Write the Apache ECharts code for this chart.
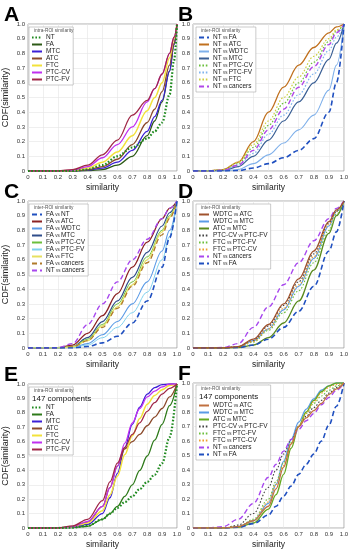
<!DOCTYPE html>
<html><head><meta charset="utf-8">
<script src="https://cdn.jsdelivr.net/npm/echarts@6/dist/echarts.min.js"></script>
<style>html,body{margin:0;padding:0;background:#fff}#c{width:355px;height:550px}</style>
</head><body><div id="c"></div>
<script>
// ---------- DATA ----------
const X_TICKS = [0,0.1,0.2,0.3,0.4,0.5,0.6,0.7,0.8,0.9,1.0];
const Y_TICKS = [0,0.1,0.2,0.3,0.4,0.5,0.6,0.7,0.8,0.9,1.0];

// Panel A : intra-ROI similarity
const A_X = [0,0.1,0.2,0.3,0.4,0.5,0.6,0.7,0.8,0.85,0.9,0.95,0.98,1.0];
const A_NAMES = ['NT','FA','MTC','ATC','FTC','PTC-CV','PTC-FV'];
const A_Y = [
  [0,0,0,0,0.01,0.04,0.1,0.16,0.22,0.27,0.33,0.52,0.75,1.0],
  [0,0,0,0,0.002,0.01,0.04,0.1,0.24,0.34,0.47,0.68,0.86,1.0],
  [0,0,0,0,0.005,0.02,0.06,0.14,0.27,0.37,0.48,0.68,0.86,1.0],
  [0,0,0,0,0.008,0.03,0.08,0.18,0.33,0.42,0.54,0.72,0.87,1.0],
  [0,0,0,0.003,0.02,0.06,0.13,0.24,0.41,0.5,0.6,0.77,0.9,1.0],
  [0,0,0,0.005,0.03,0.09,0.18,0.3,0.47,0.56,0.66,0.8,0.91,1.0],
  [0,0,0,0.01,0.04,0.11,0.21,0.38,0.48,0.56,0.66,0.8,0.91,1.0]
];

// Panel B : inter-ROI similarity (NT vs ...)
const B_X = [0,0.1,0.2,0.3,0.4,0.5,0.6,0.7,0.8,0.9,0.95,1.0];
const B_NAMES = ['NT vs FA','NT vs ATC','NT vs WDTC','NT vs MTC','NT vs PTC-CV','NT vs PTC-FV','NT vs FTC','NT vs cancers'];
const B_Y = [
  [0,0,0,0.003,0.02,0.05,0.09,0.14,0.22,0.4,0.6,1.0],
  [0,0,0.01,0.06,0.2,0.4,0.57,0.72,0.84,0.94,0.98,1.0],
  [0,0,0,0.01,0.05,0.11,0.19,0.28,0.38,0.55,0.72,1.0],
  [0,0,0.003,0.03,0.1,0.21,0.34,0.47,0.6,0.76,0.87,1.0],
  [0,0,0.01,0.05,0.16,0.31,0.46,0.6,0.74,0.88,0.95,1.0],
  [0,0,0.005,0.04,0.12,0.25,0.38,0.52,0.66,0.82,0.91,1.0],
  [0,0,0.01,0.06,0.18,0.34,0.5,0.64,0.78,0.9,0.96,1.0],
  [0,0,0.005,0.04,0.14,0.28,0.42,0.57,0.71,0.86,0.94,1.0]
];

// Panel C : inter-ROI similarity (FA vs ...)
const C_X = [0,0.1,0.2,0.3,0.4,0.5,0.6,0.7,0.8,0.9,0.95,1.0];
const C_NAMES = ['FA vs NT','FA vs ATC','FA vs WDTC','FA vs MTC','FA vs PTC-CV','FA vs PTC-FV','FA vs FTC','FA vs cancers','NT vs cancers'];
const C_Y = [
  [0,0,0,0,0.01,0.035,0.08,0.17,0.32,0.55,0.75,1.0],
  [0,0,0.002,0.02,0.1,0.22,0.37,0.55,0.72,0.88,0.95,1.0],
  [0,0,0,0.005,0.03,0.09,0.18,0.3,0.45,0.66,0.8,1.0],
  [0,0,0,0.01,0.07,0.18,0.32,0.48,0.65,0.83,0.92,1.0],
  [0,0,0,0.01,0.06,0.16,0.3,0.45,0.62,0.8,0.9,1.0],
  [0,0,0,0.004,0.02,0.07,0.14,0.24,0.38,0.6,0.76,1.0],
  [0,0,0,0.008,0.05,0.15,0.28,0.43,0.6,0.79,0.89,1.0],
  [0,0,0,0.008,0.05,0.14,0.27,0.42,0.58,0.77,0.88,1.0],
  [0,0,0.002,0.03,0.16,0.3,0.45,0.6,0.74,0.88,0.95,1.0]
];

// Panel D : inter-ROI similarity (cancer pairs)
const D_X = [0,0.1,0.2,0.3,0.4,0.5,0.6,0.7,0.8,0.9,0.95,1.0];
const D_NAMES = ['WDTC vs ATC','WDTC vs MTC','ATC vs MTC','PTC-CV vs PTC-FV','FTC vs PTC-FV','FTC vs PTC-CV','NT vs cancers','NT vs FA'];
const D_Y = [
  [0,0,0,0.01,0.06,0.16,0.3,0.47,0.66,0.86,0.94,1.0],
  [0,0,0,0.008,0.05,0.13,0.26,0.42,0.61,0.83,0.93,1.0],
  [0,0,0,0.003,0.02,0.07,0.17,0.32,0.53,0.78,0.9,1.0],
  [0,0,0,0.01,0.05,0.15,0.29,0.45,0.64,0.85,0.93,1.0],
  [0,0,0,0.007,0.04,0.12,0.24,0.39,0.58,0.8,0.91,1.0],
  [0,0,0,0.008,0.045,0.13,0.27,0.43,0.62,0.84,0.93,1.0],
  [0,0,0.003,0.03,0.14,0.28,0.43,0.58,0.73,0.88,0.95,1.0],
  [0,0,0,0.003,0.02,0.06,0.14,0.25,0.42,0.66,0.79,1.0]
];

// Panel E : intra-ROI similarity, 147 components
const E_X = [0,0.1,0.2,0.3,0.4,0.5,0.55,0.6,0.65,0.7,0.75,0.8,0.85,0.9,0.95,1.0];
const E_NAMES = ['NT','FA','MTC','ATC','FTC','PTC-CV','PTC-FV'];
const E_Y = [
  [0,0,0,0.003,0.015,0.06,0.1,0.14,0.18,0.22,0.27,0.32,0.37,0.45,0.63,1.0],
  [0,0,0,0.003,0.012,0.06,0.1,0.15,0.22,0.3,0.4,0.5,0.61,0.72,0.85,1.0],
  [0,0,0,0.005,0.025,0.1,0.21,0.38,0.56,0.72,0.84,0.93,0.975,0.995,1.0,1.0],
  [0,0,0,0.01,0.04,0.15,0.28,0.43,0.55,0.6,0.65,0.71,0.77,0.83,0.91,1.0],
  [0,0,0,0.008,0.035,0.12,0.23,0.36,0.51,0.64,0.76,0.86,0.92,0.96,0.99,1.0],
  [0,0,0,0.01,0.045,0.15,0.28,0.43,0.59,0.73,0.83,0.91,0.95,0.98,1.0,1.0],
  [0,0,0,0.015,0.06,0.19,0.32,0.45,0.56,0.65,0.73,0.81,0.87,0.93,0.97,1.0]
];

// Panel F : inter-ROI similarity, 147 components
const F_X = [0,0.1,0.2,0.3,0.4,0.5,0.55,0.6,0.65,0.7,0.75,0.8,0.85,0.9,0.95,1.0];
const F_NAMES = ['WDTC vs ATC','WDTC vs MTC','ATC vs MTC','PTC-CV vs PTC-FV','FTC vs PTC-FV','FTC vs PTC-CV','NT vs cancers','NT vs FA'];
const F_Y = [
  [0,0,0,0.01,0.05,0.15,0.27,0.42,0.58,0.7,0.76,0.81,0.86,0.92,0.96,1.0],
  [0,0,0,0.01,0.05,0.17,0.3,0.46,0.61,0.73,0.82,0.89,0.95,0.98,1.0,1.0],
  [0,0,0,0.005,0.035,0.13,0.23,0.37,0.55,0.7,0.8,0.88,0.94,0.98,1.0,1.0],
  [0,0,0,0.02,0.1,0.28,0.4,0.51,0.61,0.7,0.77,0.83,0.88,0.93,0.97,1.0],
  [0,0,0,0.01,0.06,0.2,0.32,0.45,0.59,0.7,0.79,0.86,0.91,0.95,0.98,1.0],
  [0,0,0,0.01,0.05,0.18,0.3,0.43,0.58,0.7,0.79,0.87,0.93,0.97,0.99,1.0],
  [0,0,0.01,0.06,0.17,0.35,0.44,0.53,0.61,0.68,0.74,0.79,0.85,0.9,0.95,1.0],
  [0,0,0,0.005,0.03,0.09,0.15,0.22,0.29,0.37,0.44,0.51,0.6,0.71,0.84,1.0]
];

// ---------- STYLES ----------
const DOT = [1.6,1.8], DASH = [5,3], SOL = 'solid';
const A_STYLE = [['#1f8a1f',DOT,2.2],['#2d5a16',SOL,1.3],['#3b1fd6',SOL,1.3],['#8b4a2b',SOL,1.3],['#f2e23a',SOL,1.5],['#c030f0',SOL,1.3],['#a02848',SOL,1.3]];
const B_STYLE = [['#2050c0',DASH,1.6],['#c0701e',SOL,1.3],['#7fb0ea',SOL,1.1],['#3a5f95',SOL,1.2],['#6cbf3c',DOT,1.2],['#80b4ee',DOT,1.2],['#cfcf40',DOT,1.2],['#b048e8',DASH,1.4]];
const C_STYLE = [['#2050c0',DASH,1.6],['#8b2222',SOL,1.3],['#5b9be6',SOL,1.1],['#2f4d8a',SOL,1.2],['#6cbf3c',SOL,1.0],['#7fd0ee',SOL,1.0],['#e6e060',SOL,1.2],['#b07a2a',DASH,1.3],['#a848ee',DASH,1.4]];
const D_STYLE = [['#a0522d',SOL,1.3],['#5b9be6',SOL,1.2],['#5a8a1e',SOL,1.3],['#444444',DOT,1.1],['#6cbf3c',DOT,1.1],['#f0a030',DOT,1.1],['#a848ee',DASH,1.4],['#2050c0',DASH,1.6]];
const E_STYLE = A_STYLE.map(s=>s.slice()); E_STYLE[1] = ['#2e7a1a',SOL,1.3];
const F_STYLE = [['#c07040',SOL,1.3],['#5b9be6',SOL,1.3],['#66aa22',SOL,1.4],['#444444',DOT,1.1],['#6cbf3c',DOT,1.1],['#f0a030',DOT,1.1],['#a848ee',DASH,1.4],['#2050c0',DASH,1.6]];

const FONT = 'Liberation Sans, Arial, sans-serif';
const PANELS = [
  {x:A_X,n:A_NAMES,y:A_Y,s:A_STYLE,g:{left:27,top:24,width:150,height:147},letter:'A',title:'intra-ROI similarity',comp:false,lg:{left:29,top:27},lh:6.6,cdf:true},
  {x:B_X,n:B_NAMES,y:B_Y,s:B_STYLE,g:{left:193,top:24,width:151,height:147},letter:'B',title:'inter-ROI similarity',comp:false,lg:{left:196,top:27},lh:5.5,cdf:false},
  {x:C_X,n:C_NAMES,y:C_Y,s:C_STYLE,g:{left:27,top:201,width:150,height:147},letter:'C',title:'inter-ROI similarity',comp:false,lg:{left:29,top:204},lh:5.6,cdf:true},
  {x:D_X,n:D_NAMES,y:D_Y,s:D_STYLE,g:{left:193,top:201,width:151,height:147},letter:'D',title:'inter-ROI similarity',comp:false,lg:{left:196,top:204},lh:5.5,cdf:false},
  {x:E_X,n:E_NAMES,y:E_Y,s:E_STYLE,g:{left:27,top:384,width:150,height:148},letter:'E',title:'intra-ROI similarity',comp:true,lg:{left:29,top:387},lh:5.4,cdf:true},
  {x:F_X,n:F_NAMES,y:F_Y,s:F_STYLE,g:{left:193,top:383,width:151,height:149},letter:'F',title:'inter-ROI similarity',comp:true,lg:{left:196,top:385},lh:5.6,cdf:false}
];

const fmtTick = v => (v === 0 ? '0' : v.toFixed(1));
const grids=[], xAxes=[], yAxes=[], series=[], legends=[], graphics=[];
PANELS.forEach((p,i)=>{
  grids.push(Object.assign({show:true,borderColor:'#9a9a9a',borderWidth:0.8,backgroundColor:'#fff'},p.g));
  xAxes.push({type:'value',gridIndex:i,min:0,max:1,interval:0.1,
    name:'similarity',nameLocation:'middle',nameGap:12,
    nameTextStyle:{fontSize:8.5,color:'#222',fontFamily:FONT},
    axisLine:{show:false},axisTick:{show:false},
    axisLabel:{fontSize:6,color:'#333',margin:3,fontFamily:FONT,formatter:fmtTick,showMinLabel:true,showMaxLabel:true},
    splitLine:{show:true,lineStyle:{color:'#e4e4e4',width:0.6}}});
  yAxes.push({type:'value',gridIndex:i,min:0,max:1,interval:0.1,
    name:p.cdf?'CDF(similarity)':'',nameLocation:'middle',nameGap:18,
    nameTextStyle:{fontSize:9,color:'#222',fontFamily:FONT},
    axisLine:{show:false},axisTick:{show:false},
    axisLabel:{fontSize:6,color:'#333',margin:3,fontFamily:FONT,formatter:fmtTick,showMinLabel:true,showMaxLabel:true},
    splitLine:{show:true,lineStyle:{color:'#e4e4e4',width:0.6}}});
  const names=[];
  p.n.forEach((nm,k)=>{
    const st=p.s[k];
    const id=nm+'#'+i;
    names.push(id);
    series.push({type:'line',name:id,xAxisIndex:i,yAxisIndex:i,
      data:p.x.map((xv,j)=>[xv,p.y[k][j]]),
      smooth:0.35,smoothMonotone:'x',symbol:'none',showSymbol:false,silent:true,animation:false,
      lineStyle:{color:st[0],type:st[1],width:st[2]},itemStyle:{color:st[0]},z:2+ (k===0?1:0)});
  });
  const padTop = p.comp ? 17 : 7;
  legends.push({show:true,orient:'vertical',left:p.lg.left,top:p.lg.top,data:names,
    padding:[padTop,3,2,2],itemGap:0,itemWidth:10,itemHeight:4,
    backgroundColor:'#fff',borderColor:'#a8a8a8',borderWidth:0.6,
    selectedMode:false,
    itemStyle:{opacity:0,borderWidth:0},
    lineStyle:{inactiveWidth:1},
    textStyle:{fontFamily:FONT,color:'#222',fontSize:6.5,padding:[0,0,0,-1],
      rich:{a:{fontSize:6.5,fontFamily:FONT,color:'#222',lineHeight:p.lh},
            v:{fontSize:4.5,fontFamily:FONT,color:'#333',lineHeight:p.lh}}},
    formatter:function(name){
      const base=name.split('#')[0];
      const parts=base.split(' vs ');
      if(parts.length>1) return '{a|'+parts[0]+'}{v| vs }{a|'+parts[1]+'}';
      return '{a|'+base+'}';
    }});
  graphics.push({type:'text',left:p.lg.left+5,top:p.lg.top+1.5,z:100,
    style:{text:p.title,fontSize:4.8,fill:'#555',fontFamily:FONT}});
  if(p.comp) graphics.push({type:'text',left:p.lg.left+3,top:p.lg.top+7.5,z:100,
    style:{text:'147 components',fontSize:8,fill:'#111',fontFamily:FONT}});
  graphics.push({type:'text',left:(i%2===0?4:178),top:p.g.top-19,z:100,
    style:{text:p.letter,fontSize:21,fontWeight:'bold',fill:'#000',fontFamily:FONT}});
});

const chart = echarts.init(document.getElementById('c'),null,{renderer:'canvas'});
chart.setOption({animation:false,grid:grids,xAxis:xAxes,yAxis:yAxes,series:series,legend:legends,graphic:graphics});
</script></body></html>
